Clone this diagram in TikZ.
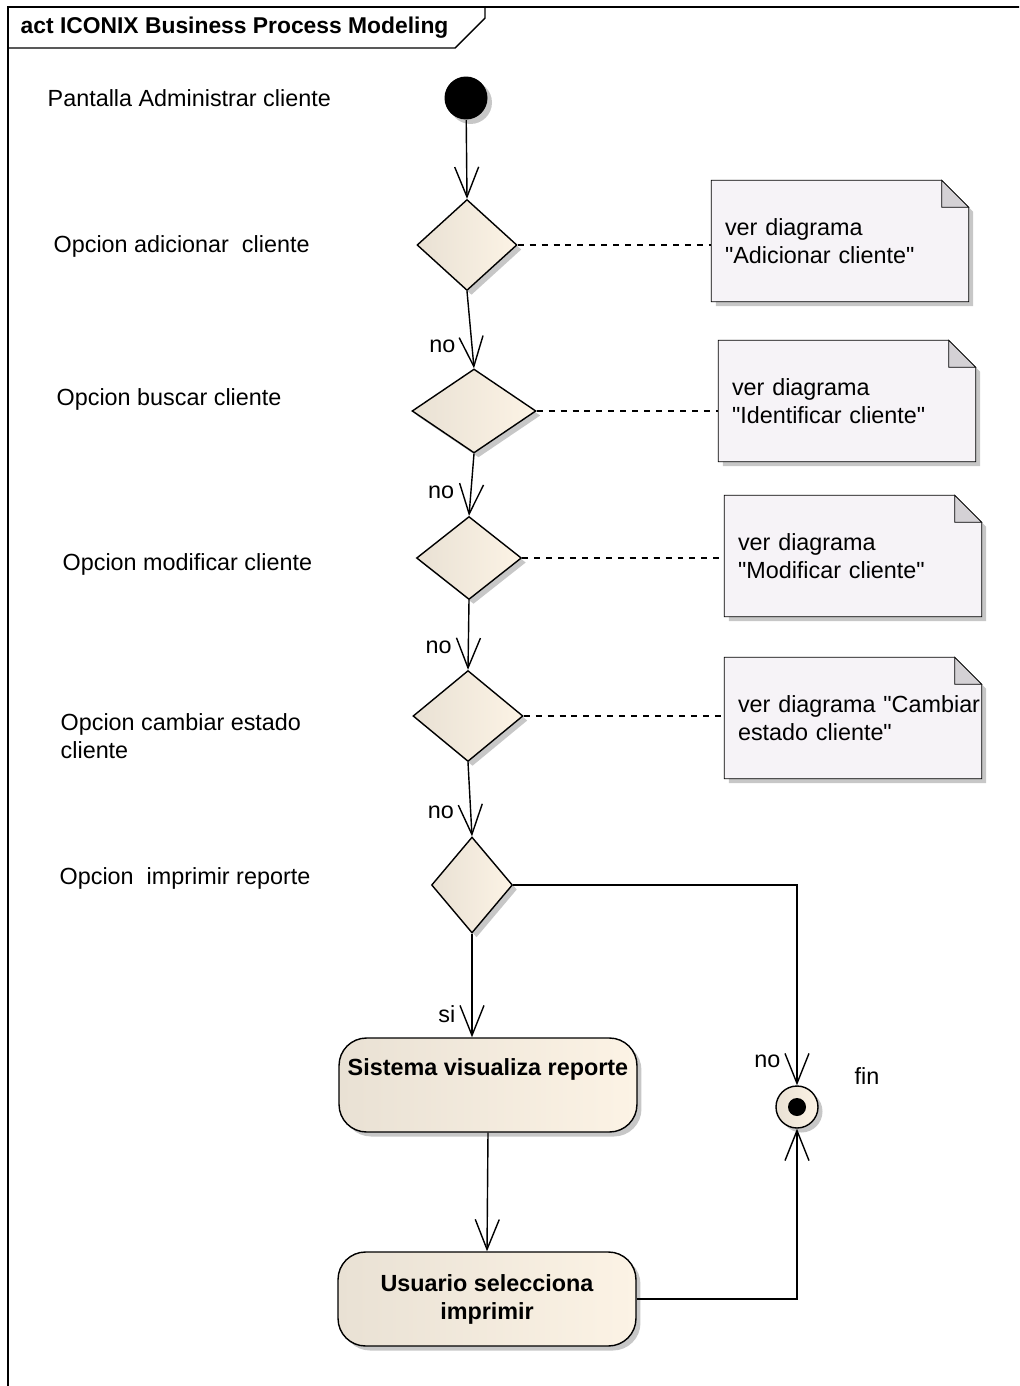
\documentclass[tikz,border=0pt]{standalone}
\usepackage{fontspec}
\setmainfont{Liberation Sans}
\usetikzlibrary{arrows.meta, positioning, shapes.geometric, shadows, backgrounds}

\definecolor{actleft}{HTML}{E9E1D4}
\definecolor{actright}{HTML}{FCF3E5}
\definecolor{notefill}{HTML}{F6F3F7}
\definecolor{notefold}{HTML}{D4D1D5}

\begin{document}
\begin{tikzpicture}[
    x=0.02cm, y=-0.02cm,
    line width=0.8pt,
    font=\fontsize{13.3}{16}\selectfont,
    sombra/.style={drop shadow={shadow xshift=0.09cm, shadow yshift=-0.09cm, fill=black!22, opacity=1}},
    inicio/.style={circle, fill=black, minimum size=0.86cm, inner sep=0, sombra},
    final/.style={circle, draw, left color=actleft, right color=actright, minimum size=0.84cm, inner sep=0, sombra,
        path picture={\fill[black] (path picture bounding box.center) circle (0.18cm);}},
    decision/.style={diamond, draw, left color=actleft, right color=actright, inner sep=0, sombra},
    accion/.style={draw, rectangle, rounded corners=0.55cm, left color=actleft, right color=actright,
        minimum width=5.96cm, minimum height=1.88cm, align=center,
        font=\fontsize{13.3}{16}\selectfont\bfseries, sombra},
    nota/.style={rectangle, minimum width=5.12cm, minimum height=2.4cm, inner xsep=0.26cm,
        text width=4.6cm, align=left},
    etiqueta/.style={anchor=west, inner sep=0, align=left},
    flujo/.style={-{Straight Barb[length=0.6cm, width=0.48cm]}},
    guarda/.style={left=0.32cm, inner sep=0},
    enlace/.style={dash pattern=on 3.4pt off 3.4pt}
]

    \useasboundingbox (0,0) rectangle (1019,1386);
    \clip (0,0) rectangle (1019,1386);

    % Marco y titulo
    \draw (8,1400) -- (8,7) -- (1030,7);
    \draw (8,48) -- (455,48) -- (485,18) -- (485,7);
    \node[etiqueta, font=\fontsize{13}{16}\selectfont\bfseries] (titulo) at (20,28) {act ICONIX Business Process Modeling};

    % Etiquetas de la izquierda
    \node[etiqueta] (lpantalla) at (47,98) {Pantalla Administrar cliente};
    \node[etiqueta] (ladicionar) at (53,246) {Opcion adicionar\ \ cliente};
    \node[etiqueta] (lbuscar) at (56,399) {Opcion buscar cliente};
    \node[etiqueta] (lmodificar) at (62,564) {Opcion modificar cliente};
    \node[etiqueta] (lcambiar) at (60,736) {Opcion cambiar estado\\cliente};
    \node[etiqueta] (limprimir) at (59,878) {Opcion\ \ imprimir reporte};

    % Nodos de control
    \node[inicio] (ini) at (466,98) {};
    \node[decision, minimum width=2cm, minimum height=1.82cm] (d1) at (467,245) {};
    \node[decision, minimum width=2.48cm, minimum height=1.68cm] (d2) at (474,411) {};
    \node[decision, minimum width=2.1cm, minimum height=1.66cm] (d3) at (469,558) {};
    \node[decision, minimum width=2.2cm, minimum height=1.82cm] (d4) at (468,716) {};
    \node[decision, minimum width=1.62cm, minimum height=1.92cm] (d5) at (472,885) {};
    \node[final] (fin) at (797,1107) {};
    \node[anchor=west, inner sep=0] (lfin) at (854,1076) {fin};

    % Acciones
    \node[accion] (acc1) at (488,1085) {Sistema visualiza reporte\\\strut};
    \node[accion] (acc2) at (487,1299) {Usuario selecciona\\imprimir};

    % Notas
    \node[nota] (nota1) at (840,241) {ver diagrama\\\textquotedbl Adicionar cliente\textquotedbl};
    \node[nota] (nota2) at (847,401) {ver diagrama\\\textquotedbl Identificar cliente\textquotedbl};
    \node[nota] (nota3) at (853,556) {ver diagrama\\\textquotedbl Modificar cliente\textquotedbl};
    \node[nota] (nota4) at (853,718) {\mbox{ver diagrama \textquotedbl Cambiar}\\estado cliente\textquotedbl};

    \begin{scope}[on background layer]
        \foreach \n in {nota1, nota2, nota3, nota4} {
            \draw[fill=notefill, sombra] (\n.south west) -- (\n.north west) -- ([xshift=-0.54cm]\n.north east)
                -- ([yshift=-0.54cm]\n.north east) -- (\n.south east) -- cycle;
            \draw[fill=notefold] ([xshift=-0.54cm]\n.north east) -- ([xshift=-0.54cm, yshift=-0.54cm]\n.north east)
                -- ([yshift=-0.54cm]\n.north east) -- cycle;
        }
    \end{scope}

    % Flujos
    \draw[flujo] (ini) -- (d1.north);
    \draw[flujo] (d1.south) -- node[guarda, pos=0.72] {no} (d2.north);
    \draw[flujo] (d2.south) -- node[guarda, pos=0.62] {no} (d3.north);
    \draw[flujo] (d3.south) -- node[guarda, pos=0.67] {no} (d4.north);
    \draw[flujo] (d4.south) -- node[guarda, pos=0.67] {no} (d5.north);
    \draw[flujo] (d5.south) -- node[guarda, pos=0.78] {si} (d5.south |- acc1.north);
    \draw[flujo] (d5.east) -| node[guarda, pos=0.94] {no} (fin.north);
    \draw[flujo] (acc1.south) -- (acc2.north);
    \draw[flujo] (acc2.east) -| (fin.south);

    % Enlaces a notas
    \draw[enlace] (d1.east) -- (d1.east -| nota1.west);
    \draw[enlace] (d2.east) -- (d2.east -| nota2.west);
    \draw[enlace] (d3.east) -- (d3.east -| nota3.west);
    \draw[enlace] (d4.east) -- (d4.east -| nota4.west);

\end{tikzpicture}
\end{document}
